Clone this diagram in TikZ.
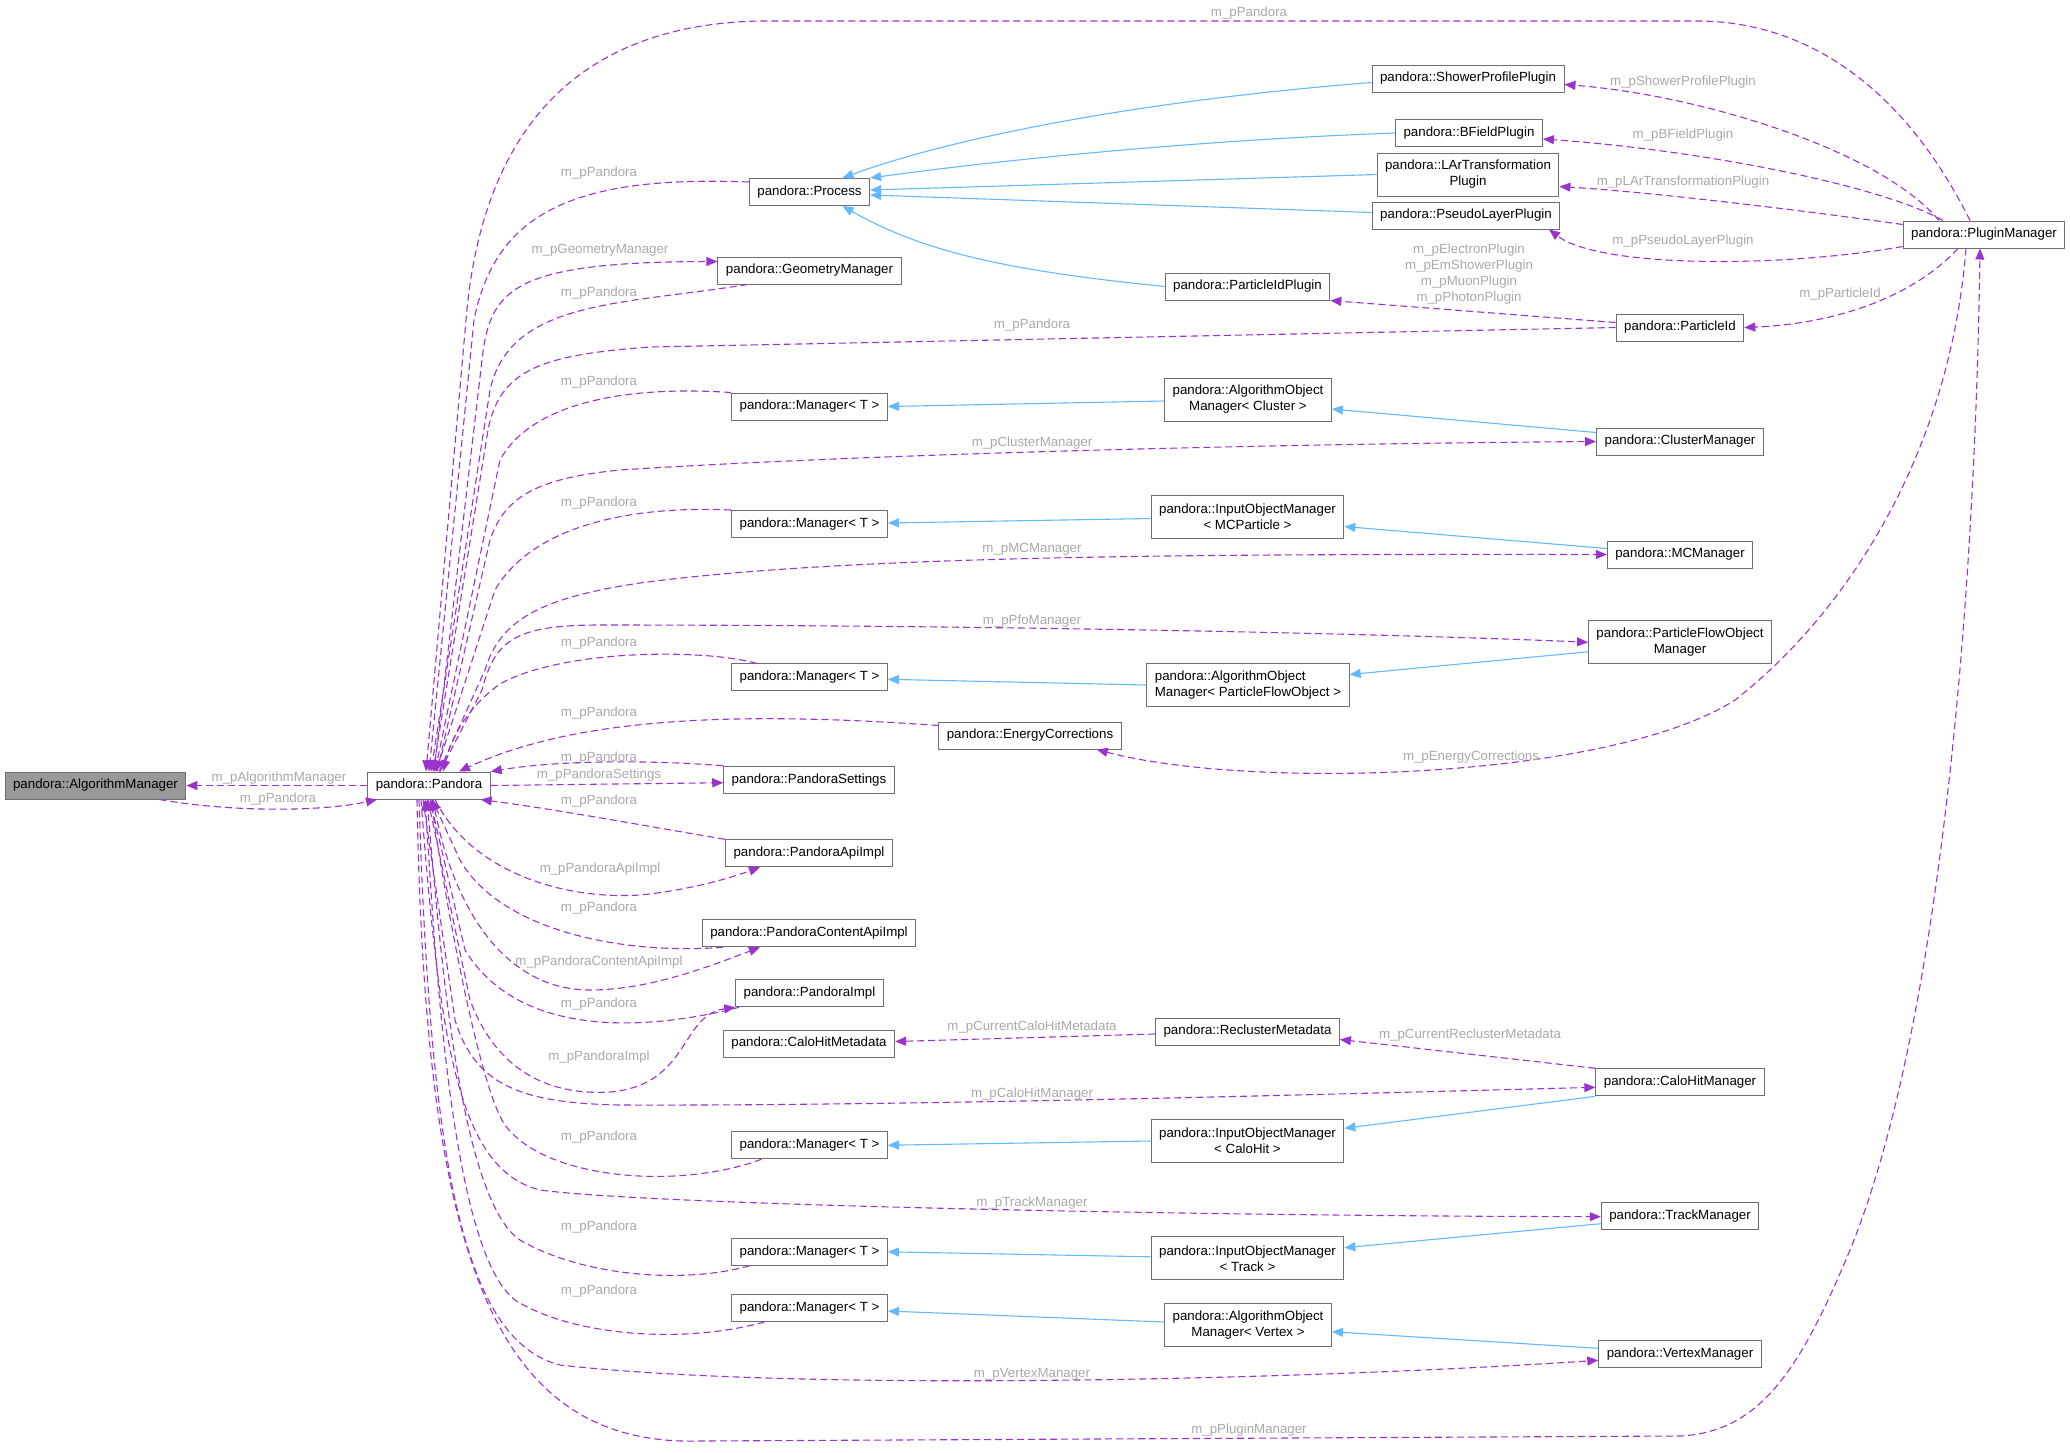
\documentclass[tikz,border=0pt]{standalone}
\usepackage{fontspec}
\setmainfont{Liberation Sans}
\usepackage{xcolor}
\usepackage{tikz}
\usetikzlibrary{arrows.meta}

\definecolor{edgepurple}{HTML}{9A32CD}
\definecolor{edgeblue}{HTML}{63B8FF}
\definecolor{lblgray}{HTML}{A8A8A8}
\definecolor{boxborder}{HTML}{6E6E6E}
\definecolor{boxgray}{HTML}{999999}

\tikzset{
    cls/.style={draw=boxborder, fill=white, line width=1pt,
        font=\fontsize{13.3}{16}\selectfont, inner xsep=8pt, inner ysep=0pt,
        minimum height=27pt, align=center},
    clsroot/.style={cls, fill=boxgray},
    clstwo/.style={cls, minimum height=43pt},
    dep/.style={draw=edgepurple, line width=1.1pt, dash pattern=on 7pt off 4pt,
        -{Triangle[length=11pt,width=9pt]}},
    inh/.style={draw=edgeblue, line width=1.1pt, -{Triangle[length=11pt,width=9pt]}},
    lbl/.style={text=lblgray, font=\fontsize{13.3}{16}\selectfont, inner sep=0pt, align=center}
}

\begin{document}
\begin{tikzpicture}[x=1pt,y=-1pt]
    \useasboundingbox (0,0) rectangle (2070,1452);

    % classes
    \node[clsroot] (algo) at (95.5,785.5) {pandora::AlgorithmManager};
    \node[cls] (pandora) at (429,785.5) {pandora::Pandora};
    \node[cls] (process) at (809.5,192) {pandora::Process};
    \node[cls] (geom) at (809.5,270.5) {pandora::GeometryManager};
    \node[cls] (shower) at (1468,78.5) {pandora::ShowerProfilePlugin};
    \node[cls] (bfield) at (1469,133) {pandora::BFieldPlugin};
    \node[clstwo] (lar) at (1468,174.5) {pandora::LArTransformation\\Plugin};
    \node[cls] (pseudo) at (1466,215.5) {pandora::PseudoLayerPlugin};
    \node[cls] (pidplugin) at (1247.5,286.5) {pandora::ParticleIdPlugin};
    \node[cls] (pid) at (1680,327.5) {pandora::ParticleId};
    \node[cls] (pm) at (1984,234.5) {pandora::PluginManager};
    \node[cls] (mgrA) at (809.5,406.5) {pandora::Manager< T >};
    \node[clstwo] (aomcluster) at (1248,399.5) {pandora::AlgorithmObject\\Manager< Cluster >};
    \node[cls] (cluster) at (1680,441.5) {pandora::ClusterManager};
    \node[cls] (mgrB) at (809.5,524) {pandora::Manager< T >};
    \node[clstwo] (iommc) at (1247.5,517) {pandora::InputObjectManager\\< MCParticle >};
    \node[cls] (mc) at (1680,554.5) {pandora::MCManager};
    \node[clstwo] (pfo) at (1680,642.3) {pandora::ParticleFlowObject\\Manager};
    \node[cls] (mgrC) at (809.5,677.3) {pandora::Manager< T >};
    \node[clstwo,align=left] (aompfo) at (1248,685) {pandora::AlgorithmObject\\Manager< ParticleFlowObject >};
    \node[cls] (energy) at (1030,735.5) {pandora::EnergyCorrections};
    \node[cls] (settings) at (809,779.7) {pandora::PandoraSettings};
    \node[cls] (apiimpl) at (809,853.3) {pandora::PandoraApiImpl};
    \node[cls] (contentapi) at (809,933.3) {pandora::PandoraContentApiImpl};
    \node[cls] (pimpl) at (809.5,993.3) {pandora::PandoraImpl};
    \node[cls] (calometa) at (809,1043.5) {pandora::CaloHitMetadata};
    \node[cls] (recluster) at (1247.5,1031.5) {pandora::ReclusterMetadata};
    \node[cls] (calohit) at (1680,1082.3) {pandora::CaloHitManager};
    \node[cls] (mgrD) at (809.5,1145.2) {pandora::Manager< T >};
    \node[clstwo] (iomcalo) at (1247.5,1141) {pandora::InputObjectManager\\< CaloHit >};
    \node[cls] (track) at (1680,1215.7) {pandora::TrackManager};
    \node[cls] (mgrE) at (809.5,1251.8) {pandora::Manager< T >};
    \node[clstwo] (iomtrack) at (1247.5,1258.3) {pandora::InputObjectManager\\< Track >};
    \node[cls] (mgrF) at (809.5,1308) {pandora::Manager< T >};
    \node[clstwo] (aomvertex) at (1248,1325) {pandora::AlgorithmObject\\Manager< Vertex >};
    \node[cls] (vertex) at (1680,1354.3) {pandora::VertexManager};

    % inheritance
    \draw[inh] ([yshift=-4pt]shower.west) .. controls (1150,100) and (960,135) .. ([xshift=33pt]process.north);
    \draw[inh] (bfield.west) .. controls (1200,140) and (1000,160) .. (process.north east);
    \draw[inh] (lar.west) -- ([yshift=2pt]process.east);
    \draw[inh] ([yshift=3pt]pseudo.west) -- ([yshift=-3pt]process.east);
    \draw[inh] (pidplugin.west) .. controls (1000,270) and (920,250) .. ([xshift=33pt]process.south);
    \draw[inh] ([yshift=-1.5pt]aomcluster.west) -- (mgrA.east);
    \draw[inh] ([yshift=9pt]cluster.west) -- ([yshift=-9.5pt]aomcluster.east);
    \draw[inh] ([yshift=-1.5pt]iommc.west) -- ([yshift=1pt]mgrB.east);
    \draw[inh] ([yshift=6pt]mc.west) -- ([yshift=-9.5pt]iommc.east);
    \draw[inh] (aompfo.west) -- ([yshift=-2pt]mgrC.east);
    \draw[inh] ([yshift=-9.5pt]pfo.west) -- ([yshift=10.5pt]aompfo.east);
    \draw[inh] (calohit.south west) -- ([yshift=12.7pt]iomcalo.east);
    \draw[inh] (iomcalo.west) -- (mgrD.east);
    \draw[inh] ([yshift=-8pt]track.west) -- ([yshift=10.6pt]iomtrack.east);
    \draw[inh] ([yshift=1.5pt]iomtrack.west) -- (mgrE.east);
    \draw[inh] ([yshift=3pt]aomvertex.west) -- ([yshift=-3pt]mgrF.east);
    \draw[inh] ([yshift=6pt]vertex.west) -- ([yshift=-6.7pt]aomvertex.east);

    % usage, left
    \draw[dep] (pandora.west) -- (algo.east);
    \draw[dep] ([xshift=64pt]algo.south) .. controls (230,812) and (320,812) .. ([xshift=-52pt]pandora.south);
    \node[lbl] (lAlgoMgr) at (279,777.7) {m\_pAlgorithmManager};
    \node[lbl] (lAlgoBack) at (278,799) {m\_pPandora};

    % usage, top
    \draw[dep] ([xshift=-14pt]pm.north) .. controls (1900,80) and (1800,21) .. (1697,21) -- (760,21)
        .. controls (560,25) and (480,150) .. (466,320) -- ([xshift=-3pt]pandora.north);
    \node[lbl] (lPmBack) at (1249,13) {m\_pPandora};
    \draw[dep] ([yshift=10pt]process.west) .. controls (570,175) and (495,215) .. (474,320) -- (pandora.north);
    \node[lbl] (lProcBack) at (599,173) {m\_pPandora};
    \draw[dep] ([xshift=5pt]pandora.north) -- (482,360) .. controls (490,290) and (510,262) .. ([yshift=9pt]geom.west);
    \node[lbl] (lGeom) at (600,250.7) {m\_pGeometryManager};
    \draw[dep] ([xshift=-62pt]geom.south) .. controls (620,305) and (510,300) .. (490,390) -- ([xshift=2pt]pandora.north);
    \node[lbl] (lGeomBack) at (599,292.7) {m\_pPandora};
    \draw[dep] (pid.west) -- (650,347) .. controls (540,355) and (500,370) .. (488,430) -- ([xshift=4pt]pandora.north);
    \node[lbl] (lPidBack) at (1032,325.5) {m\_pPandora};

    % plugins
    \draw[dep] ([xshift=-45pt]pm.north) .. controls (1880,150) and (1700,95) .. ([yshift=-6pt]shower.east);
    \node[lbl] (lShower) at (1683,82) {m\_pShowerProfilePlugin};
    \draw[dep] ([xshift=-41pt]pm.north) .. controls (1880,185) and (1700,150) .. ([yshift=-6pt]bfield.east);
    \node[lbl] (lBField) at (1683,135) {m\_pBFieldPlugin};
    \draw[dep] ([yshift=10pt]pm.west) .. controls (1800,210) and (1650,192) .. ([yshift=-12pt]lar.east);
    \node[lbl] (lLAr) at (1683,182) {m\_pLArTransformationPlugin};
    \draw[dep] ([yshift=-12pt]pm.west) .. controls (1780,268) and (1600,268) .. ([xshift=83pt]pseudo.south);
    \node[lbl] (lPseudo) at (1683,241) {m\_pPseudoLayerPlugin};
    \draw[dep] ([xshift=-26pt]pm.south) .. controls (1910,300) and (1830,324) .. (pid.east);
    \node[lbl] (lPid) at (1840,294) {m\_pParticleId};
    \draw[dep] ([yshift=5pt]pid.west) -- (pidplugin.south east);
    \node[lbl] (lPidPlugins) at (1469,274) {m\_pElectronPlugin\\m\_pEmShowerPlugin\\m\_pMuonPlugin\\m\_pPhotonPlugin};

    % managers
    \draw[dep] (mgrA.north west) .. controls (620,385) and (530,405) .. (500,460) -- ([xshift=6pt]pandora.north);
    \node[lbl] (lMgrA) at (599,382) {m\_pPandora};
    \draw[dep] ([xshift=8pt]pandora.north) -- (490,540) .. controls (505,495) and (540,478) .. (620,470)
        .. controls (850,455) and (1250,444) .. (cluster.west);
    \node[lbl] (lCluster) at (1032,442.7) {m\_pClusterManager};
    \draw[dep] (mgrB.north west) .. controls (620,505) and (530,530) .. (495,590) -- ([xshift=7pt]pandora.north);
    \node[lbl] (lMgrB) at (599,502.7) {m\_pPandora};
    \draw[dep] ([xshift=10pt]pandora.north) -- (485,670) .. controls (500,620) and (540,598) .. (640,583)
        .. controls (850,555) and (1200,554) .. (mc.west);
    \node[lbl] (lMC) at (1032,549) {m\_pMCManager};
    \draw[dep] ([xshift=11pt]pandora.north) -- (482,690) .. controls (495,640) and (515,625) .. (600,625)
        .. controls (1000,625) and (1400,634) .. (pfo.west);
    \node[lbl] (lPfo) at (1032,621) {m\_pPfoManager};
    \draw[dep] ([xshift=-53pt]mgrC.north) .. controls (700,648) and (560,650) .. (500,684)
        .. controls (470,705) and (452,735) .. ([xshift=14pt]pandora.north);
    \node[lbl] (lMgrC) at (599,642.7) {m\_pPandora};

    % energy corrections
    \draw[dep] ([yshift=10pt]energy.west) .. controls (750,712) and (580,715) .. ([xshift=30pt]pandora.north);
    \node[lbl] (lEnergyBack) at (599,713) {m\_pPandora};
    \draw[dep] ([xshift=-18pt]pm.south) .. controls (1950,450) and (1850,610) .. (1735,700)
        .. controls (1610,780) and (1250,790) .. ([xshift=-25pt]energy.south east);
    \node[lbl] (lEnergy) at (1471,757) {m\_pEnergyCorrections};

    % settings and api
    \draw[dep] (settings.north west) .. controls (650,760) and (560,760) .. (pandora.north east);
    \node[lbl] (lSettingsBack) at (599,757.7) {m\_pPandora};
    \draw[dep] (pandora.east) -- ([yshift=-3pt]settings.west);
    \node[lbl] (lSettings) at (599,775) {m\_pPandoraSettings};
    \draw[dep] (apiimpl.north west) .. controls (640,825) and (560,810) .. ([xshift=-10pt]pandora.south east);
    \node[lbl] (lApiBack) at (599,800.7) {m\_pPandora};
    \draw[dep] ([xshift=6pt]pandora.south) .. controls (470,870) and (560,900) .. (640,895)
        .. controls (690,890) and (730,878) .. ([xshift=-49pt]apiimpl.south);
    \node[lbl] (lApi) at (600,869.3) {m\_pPandoraApiImpl};
    \draw[dep] ([xshift=-86pt]contentapi.south) .. controls (620,955) and (500,930) .. (460,860) -- ([xshift=3pt]pandora.south);
    \node[lbl] (lContentBack) at (599,908.3) {m\_pPandora};
    \draw[dep] ([xshift=4pt]pandora.south) .. controls (450,900) and (500,990) .. (590,990)
        .. controls (650,990) and (710,966) .. ([xshift=-49pt]contentapi.south);
    \node[lbl] (lContent) at (599,962.3) {m\_pPandoraContentApiImpl};
    \draw[dep] ([xshift=4pt]pimpl.south west) .. controls (650,1030) and (520,1040) .. (465,950) -- ([xshift=1pt]pandora.south);
    \node[lbl] (lImplBack) at (599,1004.3) {m\_pPandora};
    \draw[dep] ([xshift=-1pt]pandora.south) -- (470,1000) .. controls (500,1080) and (560,1095) .. (610,1092)
        .. controls (690,1085) and (680,1015) .. (pimpl.south west);
    \node[lbl] (lImpl) at (599,1057) {m\_pPandoraImpl};

    % calo hits
    \draw[dep] ([yshift=-2.5pt]recluster.west) -- ([yshift=2pt]calometa.east);
    \node[lbl] (lCaloMeta) at (1032,1026.7) {m\_pCurrentCaloHitMetadata};
    \draw[dep] (calohit.north west) -- ([yshift=-8pt]recluster.east);
    \node[lbl] (lRecluster) at (1470,1034.7) {m\_pCurrentReclusterMetadata};
    \draw[dep] ([xshift=-6pt]pandora.south) -- (455,1020) .. controls (475,1085) and (520,1103) .. (620,1105)
        .. controls (900,1106) and (1300,1095) .. ([yshift=-5pt]calohit.west);
    \node[lbl] (lCaloHit) at (1032,1094) {m\_pCaloHitManager};
    \draw[dep] ([xshift=-48pt]mgrD.south) .. controls (680,1190) and (545,1180) .. (505,1125)
        .. controls (480,1090) and (445,900) .. ([xshift=2pt]pandora.south);
    \node[lbl] (lMgrD) at (599,1136.7) {m\_pPandora};

    % tracks and vertices
    \draw[dep] ([xshift=-8pt]pandora.south) .. controls (440,1050) and (460,1170) .. (540,1190)
        .. controls (650,1205) and (1200,1216) .. ([yshift=-1pt]track.west);
    \node[lbl] (lTrack) at (1032,1202.7) {m\_pTrackManager};
    \draw[dep] ([xshift=-60pt]mgrE.south) .. controls (680,1285) and (580,1275) .. (520,1240)
        .. controls (460,1200) and (440,950) .. ([xshift=-2pt]pandora.south);
    \node[lbl] (lMgrE) at (599,1226.7) {m\_pPandora};
    \draw[dep] ([xshift=-45pt]mgrF.south) .. controls (680,1345) and (570,1335) .. (515,1300)
        .. controls (450,1250) and (435,950) .. ([xshift=-4pt]pandora.south);
    \node[lbl] (lMgrF) at (599,1290.7) {m\_pPandora};
    \draw[dep] ([xshift=-10pt]pandora.south) .. controls (430,1150) and (460,1340) .. (560,1365)
        .. controls (800,1392) and (1300,1380) .. ([yshift=-6pt]vertex.west);
    \node[lbl] (lVertex) at (1032,1374) {m\_pVertexManager};

    % bottom
    \draw[dep] ([xshift=-12pt]pandora.south) .. controls (425,1250) and (490,1447) .. (700,1441) -- (1680,1436)
        .. controls (1760,1432) and (1800,1370) .. (1850,1250)
        .. controls (1940,1030) and (1975,600) .. ([xshift=-4pt]pm.south);
    \node[lbl] (lPm) at (1249,1430) {m\_pPluginManager};
\end{tikzpicture}
\end{document}
